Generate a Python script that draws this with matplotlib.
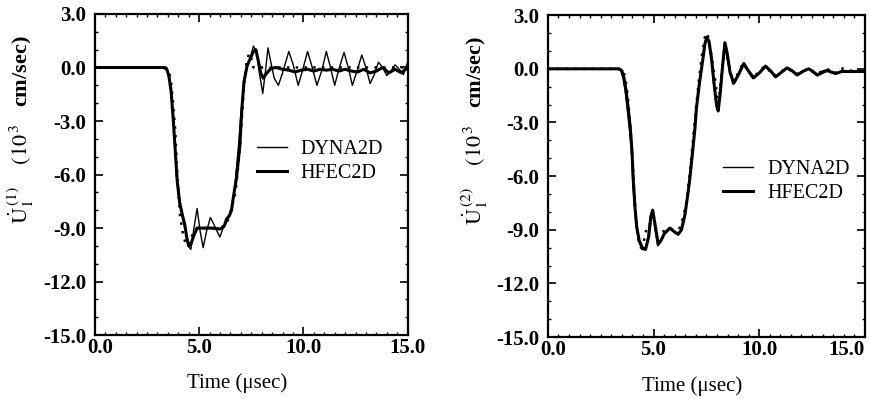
import matplotlib
matplotlib.use('Agg')
import matplotlib.pyplot as plt
from matplotlib.ticker import MultipleLocator, FormatStrFormatter
from matplotlib.transforms import ScaledTranslation

plt.rcParams['font.family'] = ['Liberation Serif', 'DejaVu Serif']
plt.rcParams['mathtext.fontset'] = 'stix'

# --- panel 1 : U1^(1) ---
t_dyna_1 = [0.0, 3.2, 3.4, 3.5, 3.6, 3.7, 3.8, 3.9, 4.05, 4.2, 4.35, 4.47, 4.6, 4.75, 4.9, 5.05,
            5.19, 5.35, 5.54, 5.75, 5.99, 6.15, 6.35, 6.55, 6.7, 6.8, 6.9, 7.0, 7.15, 7.3, 7.45,
            7.6, 7.75, 7.9, 8.05, 8.18, 8.3, 8.42, 8.6, 8.8, 9.0, 9.3, 9.5, 9.75, 9.95, 10.2,
            10.4, 10.65, 10.9, 11.1, 11.3, 11.5, 11.7, 11.95, 12.15, 12.35, 12.6, 12.8, 13.0,
            13.2, 13.4, 13.6, 13.8, 14.0, 14.2, 14.4, 14.6, 14.8, 15.0]
u_dyna_1 = [0.0, 0.0, -0.05, -0.3, -0.9, -2.0, -3.6, -6.0, -7.6, -8.4, -9.2, -10.0, -10.2, -9.0,
            -7.9, -9.2, -10.1, -9.2, -8.4, -8.9, -9.5, -9.0, -8.6, -8.0, -6.8, -5.5, -4.2, -2.6,
            -0.8, 0.0, 0.5, 1.2, 0.9, -0.4, -1.45, -0.2, 1.1, 0.4, -0.6, -1.0, -0.3, 0.9, 0.2,
            -1.0, -0.2, 0.9, 0.1, -1.0, -0.1, 0.9, 0.0, -1.0, -0.1, 0.85, 0.0, -1.0, -0.1, 0.7,
            0.0, -0.9, -0.4, 0.3, 0.0, -0.45, -0.2, 0.15, -0.1, -0.4, 0.3]

t_hfec_1 = [0.0, 3.3, 3.45, 3.55, 3.65, 3.75, 3.85, 3.95, 4.07, 4.2, 4.31, 4.4, 4.5, 4.6, 4.75,
            4.9, 5.2, 5.6, 6.0, 6.2, 6.31, 6.45, 6.55, 6.65, 6.79, 6.95, 7.05, 7.15, 7.3, 7.45,
            7.6, 7.72, 7.85, 7.95, 8.07, 8.25, 8.45, 8.7, 9.0, 9.3, 9.6, 9.9, 10.2, 10.5, 10.8,
            11.1, 11.4, 11.7, 12.0, 12.3, 12.6, 12.9, 13.2, 13.5, 13.8, 14.1, 14.4, 14.7, 15.0]
u_hfec_1 = [0.0, 0.0, -0.1, -0.5, -1.3, -2.8, -4.6, -6.4, -7.6, -8.3, -8.8, -9.5, -10.0, -9.9,
            -9.4, -9.0, -9.0, -9.0, -9.05, -8.9, -8.5, -8.3, -8.0, -7.2, -6.2, -4.4, -2.3, -0.8,
            0.1, 0.5, 0.9, 1.0, 0.3, -0.3, -0.6, -0.3, -0.05, 0.0, -0.1, -0.15, -0.25, -0.15,
            -0.1, -0.2, -0.1, -0.15, -0.1, -0.2, -0.1, -0.2, -0.25, -0.1, -0.3, -0.2, 0.0, -0.3,
            -0.1, -0.3, 0.0]

t_ref_1 = [0.0, 3.4, 3.55, 3.65, 3.75, 3.85, 3.95, 4.07, 4.23, 4.39, 4.55, 4.7, 4.9, 5.5, 6.0,
           6.3, 6.42, 6.58, 6.74, 6.85, 6.95, 7.05, 7.15, 7.27, 7.4, 7.5, 7.6, 7.7, 15.0]
u_ref_1 = [0.0, 0.0, -0.2, -0.8, -2.0, -3.5, -6.0, -8.2, -9.4, -10.0, -9.8, -9.3, -9.0, -9.0,
           -9.0, -8.8, -8.4, -7.8, -7.0, -5.8, -4.5, -2.8, -1.0, 0.3, 0.8, 0.5, 0.0, 0.0, 0.0]

# --- panel 2 : U1^(2) ---
t_dyna_2 = [0.0, 3.3, 3.45, 3.55, 3.65, 3.75, 3.85, 3.95, 4.02, 4.1, 4.18, 4.3, 4.45, 4.6, 4.75,
            4.85, 4.94, 5.05, 5.2, 5.32, 5.5, 5.76, 5.95, 6.15, 6.3, 6.47, 6.6, 6.7, 6.86, 6.95,
            7.02, 7.15, 7.33, 7.42, 7.5, 7.6, 7.72, 7.85, 7.97, 8.05, 8.15, 8.25, 8.36, 8.45,
            8.6, 8.76, 9.0, 9.23, 9.45, 9.7, 10.0, 10.26, 10.5, 10.73, 11.0, 11.28, 11.5, 11.76,
            12.0, 12.3, 12.5, 12.7, 12.95, 13.18, 13.4, 13.6, 13.9, 14.1, 14.3, 14.6, 15.0]
u_dyna_2 = [0.0, 0.0, -0.1, -0.5, -1.2, -2.2, -3.3, -4.5, -6.4, -7.7, -8.8, -9.6, -10.1, -10.1,
            -9.3, -8.2, -7.9, -8.8, -9.9, -9.7, -9.2, -8.9, -9.1, -9.28, -9.0, -8.2, -7.2, -6.3,
            -4.5, -3.3, -2.25, -0.9, 0.56, 1.4, 1.8, 1.6, 0.6, -0.9, -2.1, -2.4, -1.3, 0.2, 1.5,
            0.9, -0.2, -0.85, -0.3, 0.3, -0.1, -0.55, -0.2, 0.15, -0.1, -0.45, -0.2, 0.05, -0.1,
            -0.35, -0.15, 0.0, -0.15, -0.35, -0.15, -0.05, -0.2, -0.3, -0.1, -0.1, -0.2, -0.15,
            -0.15]

t_hfec_2 = [0.0, 3.35, 3.5, 3.6, 3.7, 3.8, 3.9, 3.98, 4.05, 4.12, 4.2, 4.32, 4.47, 4.62, 4.77,
            4.87, 4.96, 5.07, 5.22, 5.35, 5.52, 5.78, 5.97, 6.17, 6.32, 6.48, 6.6, 6.7, 6.86,
            6.96, 7.03, 7.16, 7.34, 7.43, 7.52, 7.62, 7.74, 7.87, 7.98, 8.06, 8.16, 8.27, 8.38,
            8.48, 8.62, 8.8, 9.03, 9.27, 9.48, 9.74, 10.03, 10.3, 10.53, 10.78, 11.04, 11.32,
            11.55, 11.8, 12.05, 12.34, 12.55, 12.75, 13.0, 13.22, 13.45, 13.65, 13.9, 14.2,
            14.5, 14.8, 15.0]
u_hfec_2 = [0.0, 0.0, -0.1, -0.5, -1.2, -2.2, -3.3, -4.6, -6.4, -7.7, -8.8, -9.6, -10.0, -10.1,
            -9.4, -8.3, -7.9, -8.7, -9.8, -9.6, -9.2, -8.9, -9.1, -9.25, -9.0, -8.2, -7.2, -6.3,
            -4.5, -3.3, -2.2, -0.9, 0.6, 1.4, 1.75, 1.55, 0.6, -0.9, -2.0, -2.35, -1.3, 0.2, 1.45,
            0.9, -0.2, -0.8, -0.3, 0.3, -0.1, -0.5, -0.2, 0.15, -0.1, -0.45, -0.2, 0.05, -0.1,
            -0.35, -0.15, 0.0, -0.15, -0.35, -0.2, -0.1, -0.2, -0.25, -0.15, -0.15, -0.15, -0.15,
            -0.15]

t_ref_2 = [0.0, 3.5, 3.65, 3.78, 3.9, 4.0, 4.1, 4.2, 4.3, 4.4, 4.5, 4.6, 4.7, 4.9, 5.1, 5.4,
           5.8, 6.2, 6.4, 6.55, 6.7, 6.85, 7.0, 7.15, 7.3, 7.45, 7.55, 7.65, 7.8, 7.95, 8.05,
           8.36, 8.76, 9.23, 9.7, 10.26, 10.73, 11.28, 11.76, 12.3, 12.7, 13.2, 13.6, 13.85,
           14.2, 15.0]
u_ref_2 = [0.0, 0.0, -0.4, -1.5, -3.2, -5.0, -7.2, -8.8, -9.7, -10.0, -9.9, -9.3, -8.8, -8.6,
           -8.9, -9.1, -9.0, -9.0, -8.3, -7.5, -6.0, -4.2, -2.3, -0.6, 0.9, 1.9, 2.0, 1.4, 0.3,
           -0.9, -2.2, 1.3, -0.8, 0.3, -0.5, 0.15, -0.4, 0.05, -0.3, 0.0, -0.3, 0.0, -0.25, 0.05,
           -0.1, -0.1]

labels = ['DYNA2D', 'HFEC2D']
ylabels = [r'$\dot{\mathrm{U}}_{\mathrm{1}}^{\,(1)}$    $(10^{\,3}$   cm/sec)',
           r'$\dot{\mathrm{U}}_{\mathrm{1}}^{\,(2)}$    $(10^{\,3}$   cm/sec)']
xticks = [0.0, 5.0, 10.0, 15.0]
yticks = [3.0, 0.0, -3.0, -6.0, -9.0, -12.0, -15.0]

panels = [
    (t_dyna_1, u_dyna_1, t_hfec_1, u_hfec_1, t_ref_1, u_ref_1),
    (t_dyna_2, u_dyna_2, t_hfec_2, u_hfec_2, t_ref_2, u_ref_2),
]
axes_pos = [[0.109, 0.160, 0.359, 0.805], [0.629, 0.155, 0.364, 0.807]]
legend_anchor = [(0.517, 0.54), (0.552, 0.483)]
ylabel_x = [-0.19, -0.183]

fig = plt.figure(figsize=(8.71, 3.99), dpi=100)
axes = []

for i, (td, ud, th, uh, tr, ur) in enumerate(panels):
    ax = fig.add_axes(axes_pos[i])
    axes.append(ax)
    ax.plot(tr, ur, color='black', linestyle=(0, (1, 2.5)), lw=1.8)
    ax.plot(td, ud, color='black', lw=1.0, label=labels[0])
    ax.plot(th, uh, color='black', lw=2.2, label=labels[1])

    ax.set_xlim(0, 15)
    ax.set_ylim(-15, 3)
    ax.set_xticks(xticks)
    ax.set_yticks(yticks)
    ax.xaxis.set_minor_locator(MultipleLocator(0.5))
    ax.yaxis.set_minor_locator(MultipleLocator(1))
    ax.xaxis.set_major_formatter(FormatStrFormatter('%.1f'))
    ax.yaxis.set_major_formatter(FormatStrFormatter('%.1f'))
    ax.tick_params(which='both', direction='in', top=True, right=True)
    ax.tick_params(which='major', length=6, width=1.2, labelsize=15)
    ax.tick_params(axis='x', which='major', pad=2)
    ax.tick_params(axis='y', which='major', pad=6)
    ax.tick_params(which='minor', length=2.5, width=1.0)
    for s in ax.spines.values():
        s.set_linewidth(1.6)

    ax.set_xlabel('Time (\u03bcsec)', fontsize=15)
    ax.xaxis.set_label_coords(0.455, -0.12)
    ax.set_ylabel(ylabels[i], fontsize=16, fontweight='bold')
    ax.yaxis.set_label_coords(ylabel_x[i], 0.64)

    ax.legend(loc='center left', bbox_to_anchor=legend_anchor[i], frameon=False,
              fontsize=14.5, borderpad=0, borderaxespad=0, handlelength=1.5,
              handletextpad=0.7, labelspacing=0.25)

fig.canvas.draw()
nudge = ScaledTranslation(0.05, 0, fig.dpi_scale_trans)
for ax in axes:
    for lab in ax.get_xticklabels() + ax.get_yticklabels():
        lab.set_fontweight('bold')
    for lab in ax.get_xticklabels():
        if lab.get_text() == '0.0':
            lab.set_transform(lab.get_transform() + nudge)
# right panel: last x label pulled inside the page
for lab in axes[1].get_xticklabels():
    if lab.get_text() == '15.0':
        lab.set_horizontalalignment('right')

fig.savefig('out.png', dpi=100)
